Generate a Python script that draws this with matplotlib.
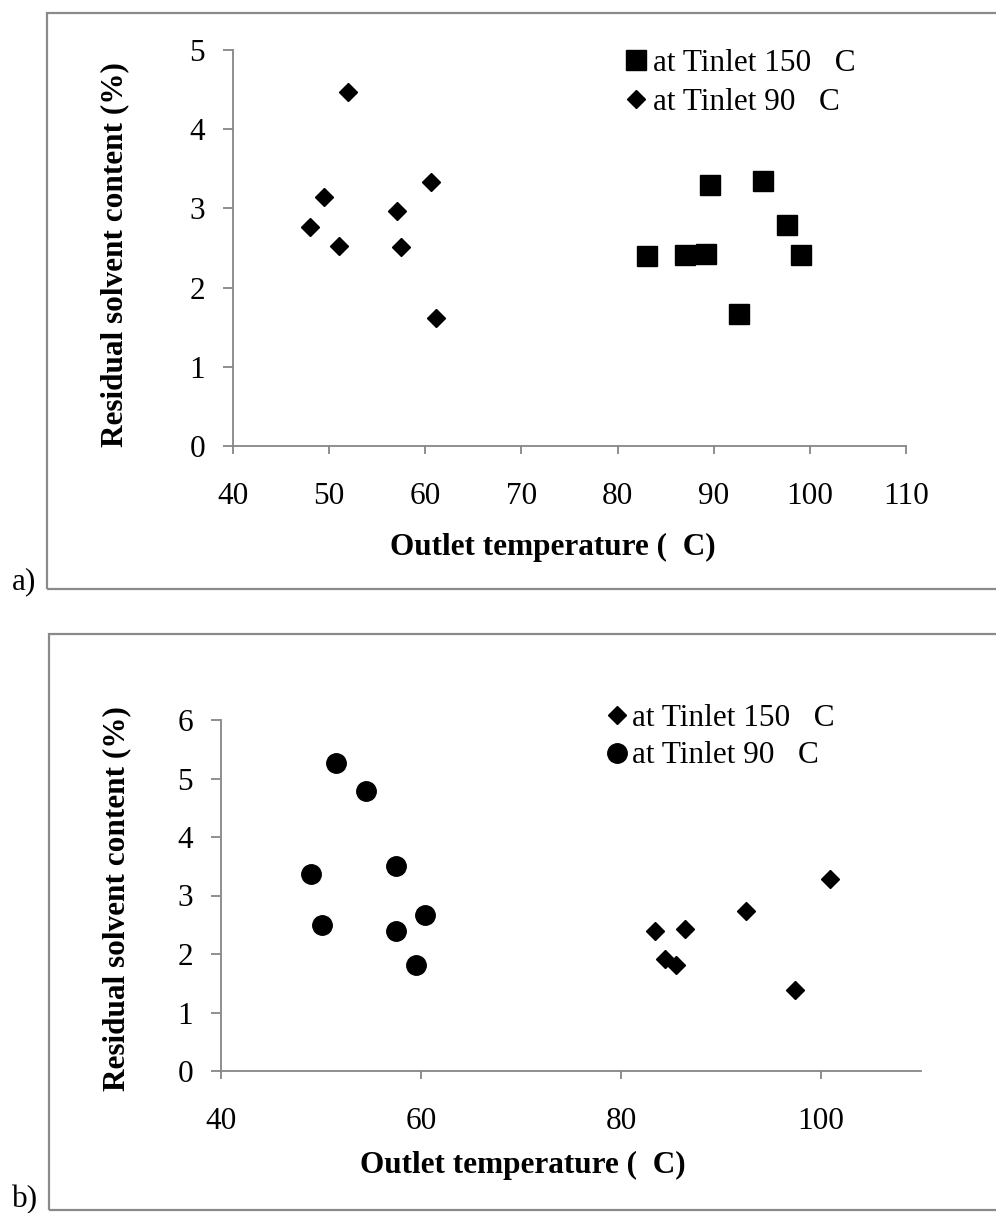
import matplotlib
matplotlib.use("Agg")
import matplotlib.pyplot as plt
from matplotlib.patches import Rectangle

# Data
# panel a)
a_t150_x = [83.1, 87.0, 89.2, 89.6, 92.6, 95.1, 97.6, 99.1]
a_t150_y = [2.40, 2.41, 2.43, 3.30, 1.67, 3.35, 2.79, 2.41]
a_t90_x = [48.0, 49.5, 51.0, 52.0, 57.1, 57.5, 60.6, 61.1]
a_t90_y = [2.77, 3.15, 2.52, 4.47, 2.97, 2.51, 3.33, 1.62]

# panel b)
b_t150_x = [83.4, 84.4, 85.5, 86.4, 92.5, 97.4, 100.9]
b_t150_y = [2.40, 1.91, 1.81, 2.43, 2.73, 1.38, 3.28]
b_t90_x = [49.0, 50.1, 51.5, 54.5, 57.5, 57.5, 59.5, 60.4]
b_t90_y = [3.36, 2.50, 5.26, 4.79, 3.50, 2.40, 1.82, 2.66]

legend_labels = ["at Tinlet 150   C", "at Tinlet 90   C"]
xlabel = "Outlet temperature (  C)"
ylabel = "Residual solvent content (%)"

W, H = 996, 1213
plt.rcParams['font.family'] = ['Liberation Serif', 'DejaVu Serif']
fig = plt.figure(figsize=(W / 100, H / 100), dpi=100)

GREY = "#868686"
FS = 22.5


def fx(px):
    return px / W


def fy(py):
    return 1 - py / H


def style_axes(ax):
    for side in ["top", "right"]:
        ax.spines[side].set_visible(False)
    for side in ["left", "bottom"]:
        ax.spines[side].set_color(GREY)
        ax.spines[side].set_linewidth(1.3)
    ax.tick_params(axis="x", direction="out", length=6, width=1.3, color=GREY,
                   pad=20, labelsize=FS)
    ax.tick_params(axis="y", direction="out", length=7, width=1.3, color=GREY,
                   pad=13, labelsize=FS)


# frames round each panel
fig.patches.append(Rectangle((fx(47), fy(589)), 1.1, fy(13) - fy(589),
                             transform=fig.transFigure, fill=False,
                             edgecolor="#8a8a8a", linewidth=1.6))
fig.patches.append(Rectangle((fx(49), fy(1210)), 1.1, fy(634) - fy(1210),
                             transform=fig.transFigure, fill=False,
                             edgecolor="#8a8a8a", linewidth=1.6))

# ---- panel a ----
ax1 = fig.add_axes([fx(233), fy(446), fx(906) - fx(233), fy(50) - fy(446)])
ax1.plot(a_t150_x, a_t150_y, "s", color="black", ms=14, label=legend_labels[0])
ax1.plot(a_t90_x, a_t90_y, "D", color="black", ms=9.2, label=legend_labels[1])
ax1.set_xlim(40, 110)
ax1.set_ylim(0, 5)
ax1.set_xticks(range(40, 111, 10))
ax1.set_yticks(range(0, 6))
style_axes(ax1)
ax1.legend(loc="upper left", bbox_to_anchor=(fx(623), fy(49)),
           bbox_transform=fig.transFigure, frameon=False, fontsize=FS,
           handlelength=0.8, handletextpad=0.15, borderpad=0,
           borderaxespad=0, labelspacing=0.33)
fig.text(fx(553), fy(547), xlabel, ha="center", va="center",
         fontsize=FS, fontweight="bold")
fig.text(fx(115), fy(255), ylabel, ha="center", va="center",
         rotation=90, fontsize=FS, fontweight="bold")
fig.text(fx(24), fy(582), "a)", ha="center", va="center", fontsize=FS)

# ---- panel b ----
ax2 = fig.add_axes([fx(221), fy(1071), fx(921) - fx(221), fy(720) - fy(1071)])
ax2.plot(b_t150_x, b_t150_y, "D", color="black", ms=9.2, label=legend_labels[0])
ax2.plot(b_t90_x, b_t90_y, "o", color="black", ms=14, label=legend_labels[1])
ax2.set_xlim(40, 110)
ax2.set_ylim(0, 6)
ax2.set_xticks([40, 60, 80, 100])
ax2.set_yticks(range(0, 7))
style_axes(ax2)
ax2.legend(loc="upper left", bbox_to_anchor=(fx(604), fy(704)),
           bbox_transform=fig.transFigure, frameon=False, fontsize=FS,
           handlelength=0.8, handletextpad=0.1, borderpad=0,
           borderaxespad=0, labelspacing=0.27)
fig.text(fx(523), fy(1165), xlabel, ha="center", va="center",
         fontsize=FS, fontweight="bold")
fig.text(fx(117), fy(899), ylabel, ha="center", va="center",
         rotation=90, fontsize=FS, fontweight="bold")
fig.text(fx(25), fy(1200), "b)", ha="center", va="center", fontsize=FS)

fig.savefig("out.png", dpi=100)
plt.close(fig)
